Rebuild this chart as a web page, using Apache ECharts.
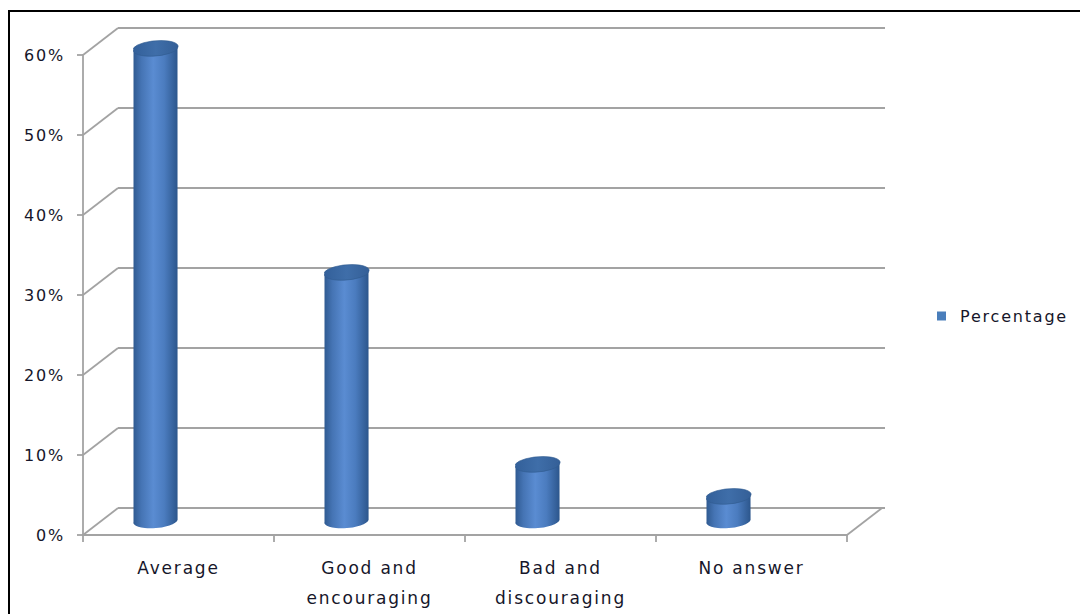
<!DOCTYPE html>
<html>
<head>
<meta charset="utf-8">
<script src="https://cdn.jsdelivr.net/npm/echarts@6/dist/echarts.min.js"></script>
<style>
  html, body { margin: 0; padding: 0; background: #ffffff; }
  #chart { width: 1080px; height: 614px; }
  /* roomy letter spacing of the chart lettering */
  #chart text { letter-spacing: 1.8px; }
</style>
</head>
<body>
<div id="chart"></div>
<script>
// ---- data ----
const categories = ['Average', 'Good and\nencouraging', 'Bad and\ndiscouraging', 'No answer'];
const percentages = [59, 31, 7, 3];
const gridTicks = [0, 10, 20, 30, 40, 50, 60];
const seriesName = 'Percentage';

// ---- 3-D look: oblique offset of the back wall and of the column row ----
const DEPTH = [35, -27];
const COLUMN_SHIFT = [-23, -15];
const RADIUS = 22;
const RY = 7;
const TILT = -5;               // slight slant of the cylinder caps, degrees
const GRID_COLOR = '#a3a3a3';
const GRID_WIDTH = 1.8;
const TEXT_COLOR = '#16162a';
const FONT = '"DejaVu Sans", "Open Sans", sans-serif';

const chart = echarts.init(document.getElementById('chart'), null, { renderer: 'svg' });

// side-wall / floor diagonals joining the front axis to the back wall
function renderWalls(params, api) {
  const v = api.value(1);
  const p = api.coord([0, v]);
  const band = api.size([1, 0])[0];
  const x0 = p[0] - band / 2;
  const y0 = p[1];
  const style = { stroke: GRID_COLOR, lineWidth: GRID_WIDTH };
  const children = [{
    type: 'line',
    shape: { x1: x0, y1: y0, x2: x0 + DEPTH[0], y2: y0 + DEPTH[1] },
    style: style
  }];
  if (v === 0) {
    const xr = api.coord([categories.length - 1, 0])[0] + band / 2;
    children.push({
      type: 'line',
      shape: { x1: xr, y1: y0, x2: xr + DEPTH[0], y2: y0 + DEPTH[1] },
      style: style
    });
  }
  return { type: 'group', children: children };
}

function capPath(cx, cy, rx, ry) {
  const a = TILT * Math.PI / 180;
  const dx = rx * Math.cos(a), dy = rx * Math.sin(a);
  return 'M' + (cx - dx) + ' ' + (cy - dy) +
    ' A' + rx + ' ' + ry + ' ' + TILT + ' 1 0 ' + (cx + dx) + ' ' + (cy + dy) +
    ' A' + rx + ' ' + ry + ' ' + TILT + ' 1 0 ' + (cx - dx) + ' ' + (cy - dy) + ' Z';
}

// cylinder columns
function renderCylinder(params, api) {
  const idx = api.value(0);
  const val = api.value(1);
  const top = api.coord([idx, val]);
  const base = api.coord([idx, 0]);
  const cx = top[0] + COLUMN_SHIFT[0];
  const yTop = top[1] + COLUMN_SHIFT[1];
  const yBase = base[1] + COLUMN_SHIFT[1];

  const bodyFill = new echarts.graphic.LinearGradient(0, 0, 1, 0, [
    { offset: 0, color: '#2f5a91' },
    { offset: 0.18, color: '#4574b4' },
    { offset: 0.45, color: '#5a8cd2' },
    { offset: 0.7, color: '#4b7cbf' },
    { offset: 1, color: '#2c568c' }
  ]);
  const topFill = new echarts.graphic.LinearGradient(0, 0, 1, 0, [
    { offset: 0, color: '#33609a' },
    { offset: 0.5, color: '#3f6ea9' },
    { offset: 1, color: '#345f97' }
  ]);

  const a = TILT * Math.PI / 180;
  const dyb = RADIUS * Math.sin(a);
  const body = 'M' + (cx - RADIUS) + ' ' + (yTop - dyb) +
    ' L' + (cx - RADIUS) + ' ' + (yBase - dyb) +
    ' A' + RADIUS + ' ' + RY + ' ' + TILT + ' 0 0 ' + (cx + RADIUS) + ' ' + (yBase + dyb) +
    ' L' + (cx + RADIUS) + ' ' + (yTop + dyb) + ' Z';

  return {
    type: 'group',
    children: [
      { type: 'path', shape: { pathData: body }, style: { fill: bodyFill } },
      { type: 'path', shape: { pathData: capPath(cx, yTop, RADIUS, RY) },
        style: { fill: topFill, stroke: '#2f5a8e', lineWidth: 0.6 } }
    ]
  };
}

const option = {
  animation: false,
  backgroundColor: '#ffffff',
  graphic: [{
    type: 'rect',
    shape: { x: 9, y: 11, width: 1100, height: 700 },
    style: { fill: 'none', stroke: '#000000', lineWidth: 2 },
    silent: true
  }],
  legend: {
    data: [seriesName],
    left: 932,
    top: 303,
    icon: 'rect',
    itemWidth: 9,
    itemHeight: 9,
    textStyle: { fontSize: 16, color: TEXT_COLOR, fontFamily: FONT, padding: [0, 0, 0, 9] }
  },
  grid: [
    // front plane: axes and labels
    { left: 83, top: 55, width: 764, height: 480, containLabel: false },
    // back wall: horizontal gridlines
    { left: 83 + DEPTH[0], top: 55 + DEPTH[1], width: 767, height: 480, containLabel: false }
  ],
  xAxis: [
    {
      type: 'category',
      gridIndex: 0,
      data: categories,
      boundaryGap: true,
      axisLine: { show: true, lineStyle: { color: GRID_COLOR, width: GRID_WIDTH } },
      axisTick: { show: true, length: 7, lineStyle: { color: GRID_COLOR, width: GRID_WIDTH } },
      axisLabel: {
        margin: 18, fontSize: 17, lineHeight: 30, color: TEXT_COLOR, fontFamily: FONT,
        interval: 0
      },
      splitLine: { show: false }
    },
    { type: 'value', gridIndex: 1, show: false }
  ],
  yAxis: [
    {
      type: 'value',
      gridIndex: 0,
      min: 0, max: 60, interval: 10,
      axisLine: { show: true, lineStyle: { color: GRID_COLOR, width: GRID_WIDTH } },
      axisTick: { show: true, length: 6, lineStyle: { color: GRID_COLOR, width: GRID_WIDTH } },
      axisLabel: { margin: 18, fontSize: 16, color: TEXT_COLOR, fontFamily: FONT, formatter: '{value}%' },
      splitLine: { show: false }
    },
    {
      type: 'value',
      gridIndex: 1,
      min: 0, max: 60, interval: 10,
      axisLine: { show: false },
      axisTick: { show: false },
      axisLabel: { show: false },
      splitLine: { show: true, lineStyle: { color: GRID_COLOR, width: GRID_WIDTH } }
    }
  ],
  series: [
    {
      type: 'custom',
      name: 'walls',
      xAxisIndex: 0, yAxisIndex: 0,
      renderItem: renderWalls,
      data: gridTicks.map(v => [0, v]),
      silent: true,
      z: 1
    },
    {
      type: 'custom',
      name: seriesName,
      xAxisIndex: 0, yAxisIndex: 0,
      itemStyle: { color: '#4a7ebb' },
      renderItem: renderCylinder,
      data: percentages.map((v, i) => [i, v]),
      z: 5
    }
  ]
};

chart.setOption(option);
</script>
</body>
</html>
